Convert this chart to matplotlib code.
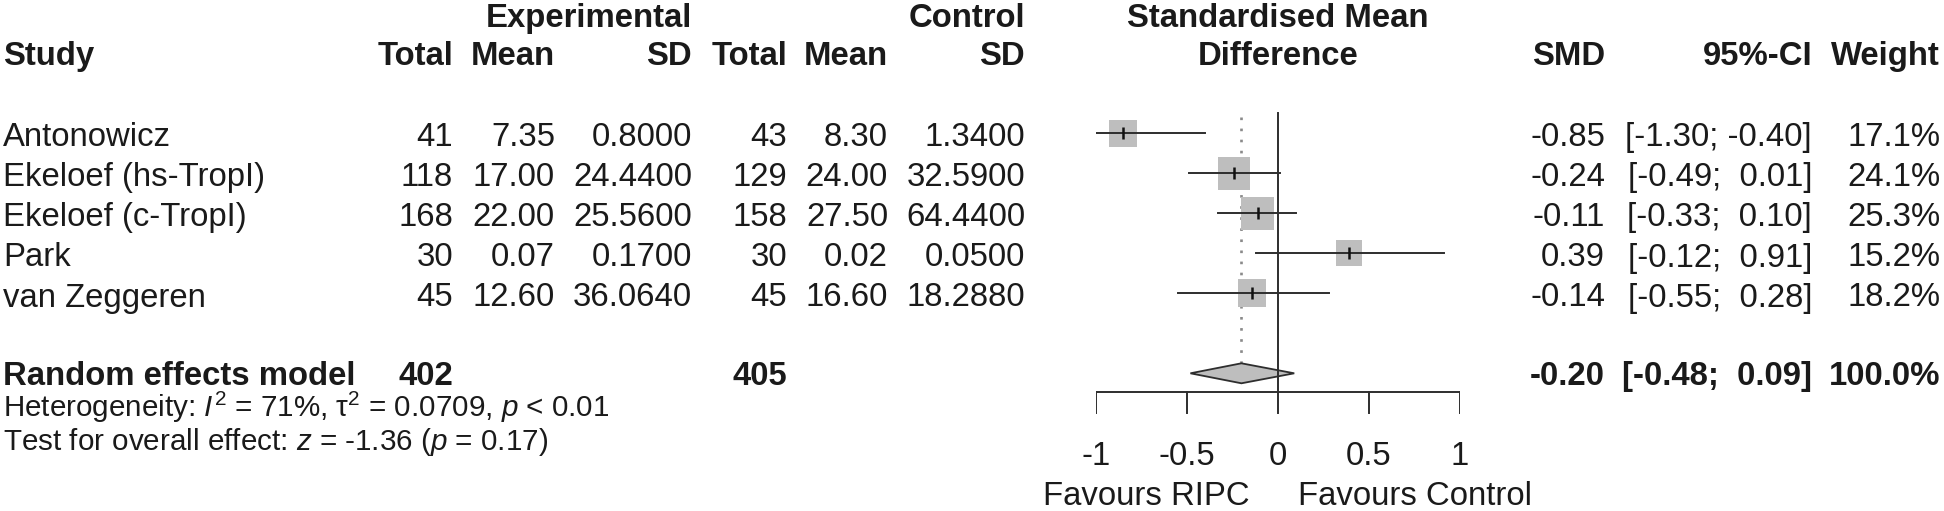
import numpy as np
import matplotlib
matplotlib.use("Agg")
import matplotlib.pyplot as plt
from matplotlib import transforms

# ---------------- data ----------------
studies = ["Antonowicz", "Ekeloef (hs-TropI)", "Ekeloef (c-TropI)", "Park", "van Zeggeren"]
exp_total = [41, 118, 168, 30, 45]
exp_mean = [7.35, 17.00, 22.00, 0.07, 12.60]
exp_sd = [0.8000, 24.4400, 25.5600, 0.1700, 36.0640]
ctrl_total = [43, 129, 158, 30, 45]
ctrl_mean = [8.30, 24.00, 27.50, 0.02, 16.60]
ctrl_sd = [1.3400, 32.5900, 64.4400, 0.0500, 18.2880]
smd = [-0.85, -0.24, -0.11, 0.39, -0.14]
ci_lo = [-1.30, -0.49, -0.33, -0.12, -0.55]
ci_hi = [-0.40, 0.01, 0.10, 0.91, 0.28]
weight = [17.1, 24.1, 25.3, 15.2, 18.2]

pooled_label = "Random effects model"
pooled_exp_total = 402
pooled_ctrl_total = 405
pooled_smd = -0.20
pooled_lo = -0.48
pooled_hi = 0.09
pooled_weight = 100.0

het_text = r"Heterogeneity: $I^2$ = 71%, $\mathrm{\tau}^2$ = 0.0709, $p$ < 0.01"
test_text = r"Test for overall effect: $z$ = -1.36 ($p$ = 0.17)"
x_ticks = [-1, -0.5, 0, 0.5, 1]
label_left = "Favours RIPC"
label_right = "Favours Control"

# ---------------- style / layout ----------------
plt.rcParams['font.family'] = ['Liberation Sans', 'DejaVu Sans']
plt.rcParams['mathtext.fontset'] = 'custom'
plt.rcParams['mathtext.rm'] = 'Liberation Sans'
plt.rcParams['mathtext.it'] = 'Liberation Sans:italic'
plt.rcParams['mathtext.bf'] = 'Liberation Sans:bold'

W, H, DPI = 1944, 511, 100
FS = 23.7
FS_SMALL = 21.3
INK = '#1a1a1a'
LINE = '#2e2e2e'
GREY = '#BEBEBE'

X_LEFT_PX, X_RIGHT_PX = 1095.7, 1460.0   # pixel positions of x=-1 and x=1
ROW0_PX, ROW_H = 133.3, 40.0               # pixel y of first study row, row height

fig = plt.figure(figsize=(W / DPI, H / DPI), dpi=DPI)
fig.patch.set_facecolor('white')
ax = fig.add_axes([X_LEFT_PX / W, 0, (X_RIGHT_PX - X_LEFT_PX) / W, 1])
ax.set_xlim(-1, 1)
ax.set_ylim((H - ROW0_PX) / ROW_H, -ROW0_PX / ROW_H)
ax.axis('off')

trans = transforms.blended_transform_factory(fig.transFigure, ax.transData)


def ctext(xpx, y, s, ha='right', bold=False, size=FS):
    ax.text(xpx / W, y, s, transform=trans, ha=ha, va='baseline', fontsize=size,
            fontweight='bold' if bold else 'normal', color=INK, clip_on=False)


# column right edges (pixels)
C_STUDY = 3
C_ETOT, C_EMEAN, C_ESD = 453, 555, 692
C_CTOT, C_CMEAN, C_CSD = 787, 888, 1025
C_SMD, C_CI, C_W = 1605, 1812, 1940

H1, H2 = -2.645, -1.695   # header baselines (row units)
BL = 0.33                 # baseline offset for rows

# headers
ctext(C_ESD, H1, "Experimental", bold=True)
ctext(C_CSD, H1, "Control", bold=True)
ax.text(0, H1, "Standardised Mean", ha='center', va='baseline', fontsize=FS,
        fontweight='bold', color=INK, clip_on=False)
ctext(C_STUDY, H2, "Study", ha='left', bold=True)
for xp, s in [(C_ETOT, "Total"), (C_EMEAN, "Mean"), (C_ESD, "SD"),
              (C_CTOT, "Total"), (C_CMEAN, "Mean"), (C_CSD, "SD"),
              (C_SMD, "SMD"), (C_CI, "95%-CI"), (C_W, "Weight")]:
    ctext(xp, H2, s, bold=True)
ax.text(0, H2, "Difference", ha='center', va='baseline', fontsize=FS,
        fontweight='bold', color=INK, clip_on=False)


def fmt_ci(lo, hi):
    f = lambda v: f"{v:.2f}" if v < 0 else f" {v:.2f}"
    return f"[{f(lo)}; {f(hi)}]"


n = len(studies)
rows = np.arange(n)
for i in range(n):
    y = rows[i] + BL
    ctext(C_STUDY, y, studies[i], ha='left')
    ctext(C_ETOT, y, f"{exp_total[i]}")
    ctext(C_EMEAN, y, f"{exp_mean[i]:.2f}")
    ctext(C_ESD, y, f"{exp_sd[i]:.4f}")
    ctext(C_CTOT, y, f"{ctrl_total[i]}")
    ctext(C_CMEAN, y, f"{ctrl_mean[i]:.2f}")
    ctext(C_CSD, y, f"{ctrl_sd[i]:.4f}")
    ctext(C_SMD, y, f"{smd[i]:.2f}")
    ctext(C_CI, y, fmt_ci(ci_lo[i], ci_hi[i]))
    ctext(C_W, y, f"{weight[i]:.1f}%")

prow = n + 1
yb = prow + 0.29
ctext(C_STUDY, yb, pooled_label, ha='left', bold=True)
ctext(C_ETOT, yb, f"{pooled_exp_total}", bold=True)
ctext(C_CTOT, yb, f"{pooled_ctrl_total}", bold=True)
ctext(C_SMD, yb, f"{pooled_smd:.2f}", bold=True)
ctext(C_CI, yb, fmt_ci(pooled_lo, pooled_hi), bold=True)
ctext(C_W, yb, f"{pooled_weight:.1f}%", bold=True)

ctext(C_STUDY, prow + 1.10, het_text, ha='left', size=FS_SMALL)
ctext(C_STUDY, prow + 1.92, test_text, ha='left', size=FS_SMALL)

# ---------------- forest ----------------
axis_y = prow + 0.475
tick_len = 0.52
dh = 0.25

# dotted pooled line and solid reference line
ax.plot([pooled_smd, pooled_smd], [-0.41, prow - dh], color='#8a8a8a', lw=1.9,
        dashes=(1, 3.2), dash_capstyle='butt', zorder=1)
ax.plot([0, 0], [-0.51, axis_y], color=LINE, lw=1.4, zorder=5)

# boxes (area proportional to weight)
box_px = 6.6
ax.scatter(smd, rows, s=[(box_px * 0.72) ** 2 * w for w in weight], marker='s',
           color=GREY, edgecolors='none', zorder=2)
for i in range(n):
    ax.plot([ci_lo[i], ci_hi[i]], [rows[i], rows[i]], color=LINE, lw=1.4, zorder=3)
ax.plot(smd, rows, ls='none', marker='|', ms=8, mew=1.8, color='#111111', zorder=4)

# diamond
ax.fill([pooled_lo, pooled_smd, pooled_hi, pooled_smd],
        [prow, prow - dh, prow, prow + dh], facecolor=GREY, edgecolor=LINE,
        lw=1.3, zorder=3)

# x axis
ax.plot([x_ticks[0], x_ticks[-1]], [axis_y, axis_y], color=LINE, lw=1.4,
        solid_capstyle='butt', zorder=5)
for t in x_ticks:
    ax.plot([t, t], [axis_y, axis_y + tick_len], color=LINE, lw=1.4, zorder=5)
    ax.text(t, prow + 2.29, f"{t:g}", ha='center', va='baseline', fontsize=FS,
            color=INK, clip_on=False)

ax.text(-0.155, prow + 3.29, label_left, ha='right', va='baseline', fontsize=FS,
        color=INK, clip_on=False)
ax.text(0.11, prow + 3.29, label_right, ha='left', va='baseline', fontsize=FS,
        color=INK, clip_on=False)

fig.savefig("out.png", dpi=DPI, facecolor='white')
